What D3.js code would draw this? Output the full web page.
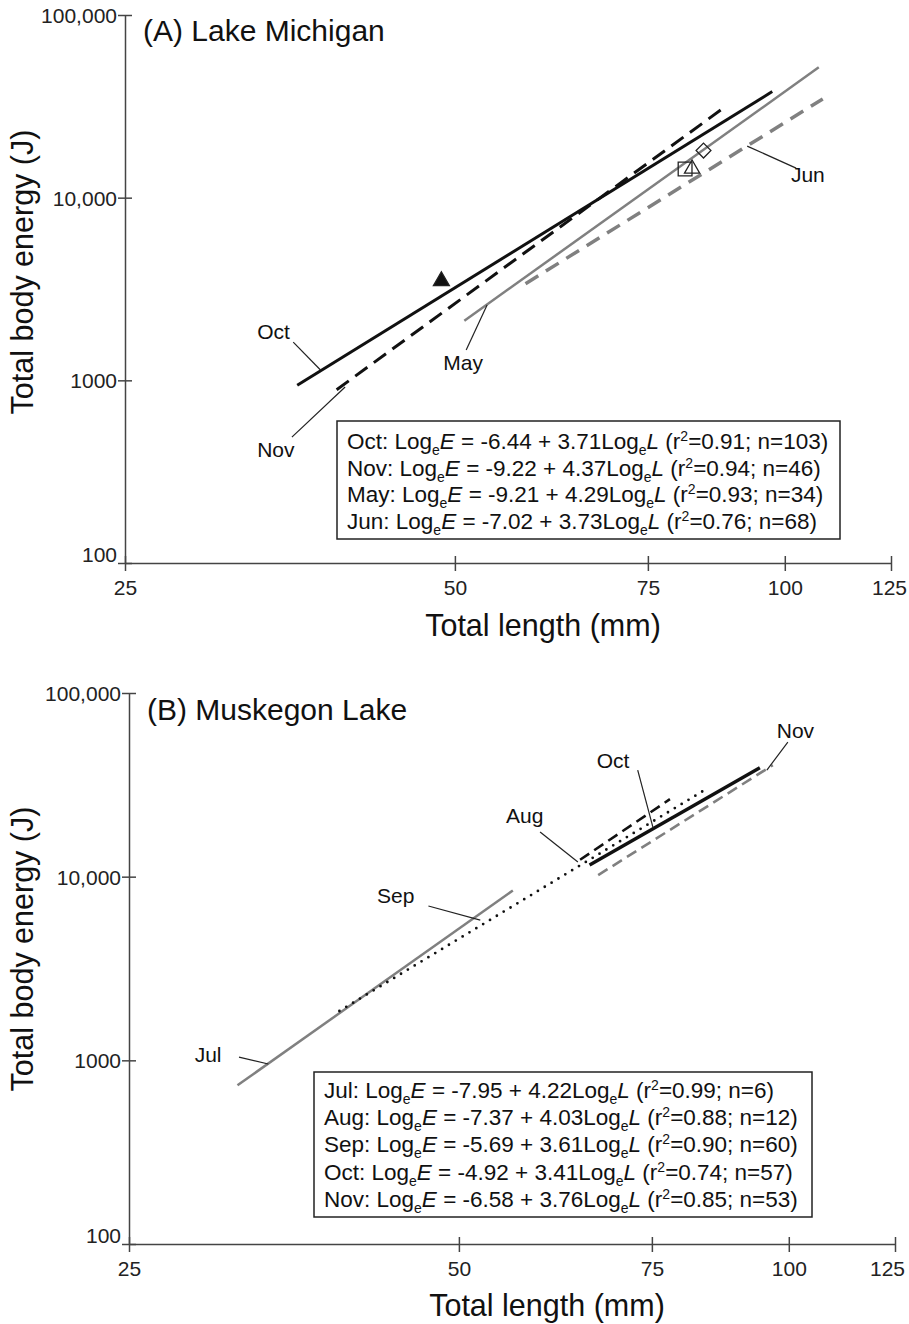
<!DOCTYPE html>
<html>
<head>
<meta charset="utf-8">
<script src="https://cdn.jsdelivr.net/npm/d3@7"></script>
<style>
  body { margin: 0; background: #fff; }
  svg { display: block; font-family: "Liberation Sans", Arial, Helvetica, sans-serif; }
</style>
</head>
<body>
<svg id="chart" width="909" height="1324"></svg>
<script>
// axis ticks (both panels)
const xTicks = [25, 50, 75, 100, 125];
const yTicks = [100, 1000, 10000, 100000];

// panel A: Lake Michigan regressions (line ends)
const monthsA = ["Oct", "Nov", "May", "Jun"];
const interceptA = ["-6.44", "-9.22", "-9.21", "-7.02"];
const slopeA = ["3.71", "4.37", "4.29", "3.73"];
const r2A = ["0.91", "0.94", "0.93", "0.76"];
const nA = [103, 46, 34, 68];
const lengthA = [[35.9, 97.4], [39.0, 88.0], [51.0, 107.4], [58.0, 108.3]];
const energyA = [[939, 38100], [889, 31100], [2120, 51700], [3380, 34700]];
const styleA = ["blackSolid", "blackDash", "greySolid", "greyDash"];

// panel A single points
const markerL = [48.6, 81.1, 82.3, 84.3];
const markerE = [3500, 14340, 14400, 18100];
const markerShape = ["triFilled", "square", "triOpen", "diamond"];

// panel A month labels: text spot and leader ends, in (length, energy)
const labelPosA = [[33.0, 1683], [33.0, 380], [48.8, 1139], [101.3, 12170]];
const leaderA = [
  [[35.6, 1620], [37.7, 1139]],
  [[35.5, 489], [39.7, 919]],
  [[51.2, 1465], [53.5, 2584]],
  [[92.4, 19160], [102.4, 14520]]
];

// panel B: Muskegon Lake regressions
const monthsB = ["Jul", "Aug", "Sep", "Oct", "Nov"];
const interceptB = ["-7.95", "-7.37", "-5.69", "-4.92", "-6.58"];
const slopeB = ["4.22", "4.03", "3.61", "3.41", "3.76"];
const r2B = ["0.99", "0.88", "0.90", "0.74", "0.85"];
const nB = [6, 12, 60, 57, 53];
const lengthB = [[31.4, 56.0], [64.5, 77.9], [38.9, 83.5], [65.8, 94.1], [67.0, 96.7]];
const energyB = [[731, 8410], [12360, 26420], [1856, 29250], [11570, 39190], [10200, 40500]];
const styleB = ["greySolid", "blackDashB", "blackDot", "blackSolidB", "greyDashB"];

const labelPosB = [[28.7, 979], [55.2, 19580], [42.1, 7183], [66.8, 39020], [97.5, 56830]];
const leaderB = [
  [[31.5, 1042], [33.5, 955]],
  [[59.3, 17490], [64.2, 12010]],
  [[46.9, 6920], [52.3, 5800]],
  [[72.8, 38050], [75.2, 18390]],
  [[99.8, 54030], [95.5, 38050]]
];

const BLACK = "#111";
const GREY = "#808080";
const AXIS = "#444";

const lineStyles = {
  blackSolid: { stroke: BLACK, width: 3, dash: null },
  blackSolidB: { stroke: BLACK, width: 3.4, dash: null },
  blackDash: { stroke: BLACK, width: 3, dash: "15 8" },
  blackDashB: { stroke: BLACK, width: 2.6, dash: "11 6" },
  blackDot: { stroke: BLACK, width: 2.8, dash: "0 8", cap: "round" },
  greySolid: { stroke: GREY, width: 2.5, dash: null },
  greyDash: { stroke: GREY, width: 3.5, dash: "15 9" },
  greyDashB: { stroke: GREY, width: 2.6, dash: "11 6" }
};

const svg = d3.select("#chart");

const panels = [
  {
    title: "(A) Lake Michigan",
    x0: 125, x1: 891, y0: 563, y1: 15,
    titleY: 41, yLabelY: 272, xLabelY: 636, lastTickShift: -2,
    months: monthsA, intercept: interceptA, slope: slopeA, r2: r2A, n: nA,
    lengths: lengthA, energies: energyA, styles: styleA,
    labelPos: labelPosA, leaders: leaderA,
    box: { x: 337, y: 421, w: 503, h: 118, textX: 347, firstY: 449, step: 26.7 },
    markers: true
  },
  {
    title: "(B) Muskegon Lake",
    x0: 129, x1: 895, y0: 1244, y1: 693,
    titleY: 720, yLabelY: 949, xLabelY: 1316, lastTickShift: -8,
    months: monthsB, intercept: interceptB, slope: slopeB, r2: r2B, n: nB,
    lengths: lengthB, energies: energyB, styles: styleB,
    labelPos: labelPosB, leaders: leaderB,
    box: { x: 314, y: 1072, w: 498, h: 145, textX: 324, firstY: 1098, step: 27.2 },
    markers: false
  }
];

panels.forEach(drawPanel);

function drawPanel(p) {
  const x = d3.scaleLog().domain([25, 125]).range([p.x0, p.x1]);
  const y = d3.scaleLog().domain([100, 100000]).range([p.y0, p.y1]);
  const g = svg.append("g");

  // x axis
  const xAxis = g.append("g")
    .attr("transform", `translate(0,${p.y0})`)
    .call(d3.axisBottom(x).tickValues(xTicks).tickFormat(d3.format("d")).tickSizeOuter(0));
  xAxis.attr("font-family", null).attr("font-size", null);
  xAxis.select(".domain").attr("stroke", AXIS).attr("stroke-width", 1.5);
  xAxis.selectAll(".tick line").attr("stroke", AXIS).attr("stroke-width", 1.5).attr("y1", -7).attr("y2", 8);
  xAxis.selectAll(".tick text").attr("fill", "#222").attr("font-size", 21)
    .attr("y", 32).attr("dy", 0)
    .attr("x", d => d === 125 ? p.lastTickShift : 0);

  // y axis
  const yAxis = g.append("g")
    .attr("transform", `translate(${p.x0},0)`)
    .call(d3.axisLeft(y).tickValues(yTicks)
      .tickFormat(d => d >= 10000 ? d3.format(",")(d) : String(d)).tickSizeOuter(0));
  yAxis.attr("font-family", null).attr("font-size", null);
  yAxis.select(".domain").attr("stroke", AXIS).attr("stroke-width", 1.5);
  yAxis.selectAll(".tick line").attr("stroke", AXIS).attr("stroke-width", 1.5).attr("x1", 7).attr("x2", -7);
  yAxis.selectAll(".tick text").attr("fill", "#222").attr("font-size", 21)
    .attr("x", -8).attr("dy", d => d === 100 ? "-0.05em" : "0.36em");

  // titles
  g.append("text").attr("x", p.x0 + 18).attr("y", p.titleY)
    .attr("font-size", 30).attr("fill", "#111").text(p.title);
  g.append("text").attr("transform", `translate(33,${p.yLabelY}) rotate(-90)`)
    .attr("text-anchor", "middle").attr("font-size", 30.5).attr("fill", "#111")
    .text("Total body energy (J)");
  g.append("text").attr("x", (p.x0 + p.x1) / 2 + 35).attr("y", p.xLabelY)
    .attr("text-anchor", "middle").attr("font-size", 30.5).attr("fill", "#111")
    .text("Total length (mm)");

  // regression lines
  const line = d3.line().x(d => x(d[0])).y(d => y(d[1]));
  p.months.forEach((m, i) => {
    const s = lineStyles[p.styles[i]];
    const pts = p.lengths[i].map((L, k) => [L, p.energies[i][k]]);
    g.append("path").attr("d", line(pts)).attr("fill", "none")
      .attr("stroke", s.stroke).attr("stroke-width", s.width)
      .attr("stroke-dasharray", s.dash)
      .attr("stroke-linecap", s.cap || "butt");
  });

  // month labels and their leader lines
  p.months.forEach((m, i) => {
    g.append("path").attr("d", line(p.leaders[i])).attr("fill", "none")
      .attr("stroke", "#222").attr("stroke-width", 1.2);
    g.append("text").attr("x", x(p.labelPos[i][0])).attr("y", y(p.labelPos[i][1]))
      .attr("font-size", 21).attr("fill", "#111").text(m);
  });

  // single points (panel A only)
  if (p.markers) {
    markerShape.forEach((shape, i) => {
      const cx = x(markerL[i]), cy = y(markerE[i]);
      let sym, rot = 0, fill = "none";
      if (shape === "triFilled") { sym = d3.symbol(d3.symbolTriangle, 110); fill = "#111"; }
      if (shape === "triOpen") sym = d3.symbol(d3.symbolTriangle, 100);
      if (shape === "square") sym = d3.symbol(d3.symbolSquare, 190);
      if (shape === "diamond") { sym = d3.symbol(d3.symbolSquare, 110); rot = 45; }
      g.append("path").attr("d", sym())
        .attr("transform", `translate(${cx},${cy}) rotate(${rot})`)
        .attr("fill", fill).attr("stroke", "#222").attr("stroke-width", 1.3);
    });
  }

  // equation box
  const b = p.box;
  g.append("rect").attr("x", b.x).attr("y", b.y).attr("width", b.w).attr("height", b.h)
    .attr("fill", "#fff").attr("stroke", "#222").attr("stroke-width", 1.5);
  p.months.forEach((m, i) => {
    const t = g.append("text").attr("x", b.textX).attr("y", b.firstY + i * b.step)
      .attr("font-size", 22.5).attr("fill", "#111");
    t.append("tspan").text(`${m}: Log`);
    t.append("tspan").attr("font-size", 14).attr("dy", 6).text("e");
    t.append("tspan").attr("dy", -6).attr("font-style", "italic").text("E");
    t.append("tspan").text(` = ${p.intercept[i]} + ${p.slope[i]}Log`);
    t.append("tspan").attr("font-size", 14).attr("dy", 6).text("e");
    t.append("tspan").attr("dy", -6).attr("font-style", "italic").text("L");
    t.append("tspan").text(" (r");
    t.append("tspan").attr("font-size", 14).attr("dy", -8).text("2");
    t.append("tspan").attr("dy", 8).text(`=${p.r2[i]}; n=${p.n[i]})`);
  });
}
</script>
</body>
</html>
